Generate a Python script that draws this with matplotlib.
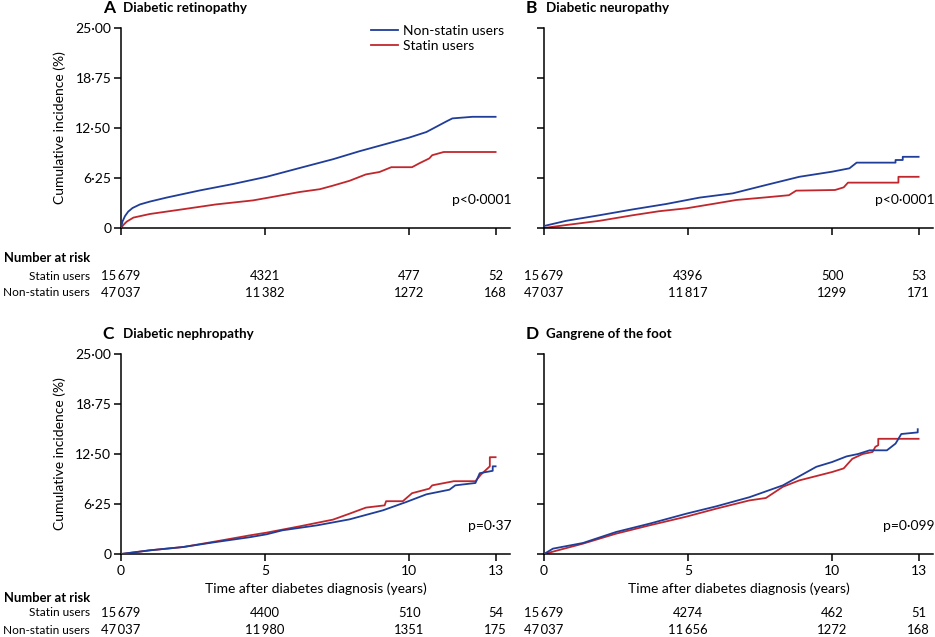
import matplotlib
matplotlib.use('Agg')
import matplotlib.pyplot as plt
import matplotlib.transforms as mtransforms

plt.rcParams['font.family'] = ['Lato', 'DejaVu Sans']

BLUE = '#1f3d99'
RED = '#c0272d'

# --- data (years, cumulative incidence %) ---
a_non_t = [0, 0.05, 0.14, 0.25, 0.4, 0.66, 1.0, 1.58, 2.74, 3.89, 5.05, 6.2, 7.36, 8.28, 9.09, 10.0, 10.6, 11.28, 11.5, 12.2, 13.0]
a_non_y = [0, 0.8, 1.5, 2.05, 2.5, 2.95, 3.3, 3.8, 4.7, 5.5, 6.4, 7.5, 8.6, 9.6, 10.4, 11.3, 12.0, 13.3, 13.7, 13.9, 13.9]
a_sta_t = [0, 0.1, 0.2, 0.43, 1.0, 2.16, 3.3, 4.58, 5.05, 6.2, 6.9, 7.36, 7.93, 8.5, 8.97, 9.38, 10.1, 10.36, 10.7, 10.8, 11.2, 13.0]
a_sta_y = [0, 0.45, 0.8, 1.3, 1.75, 2.35, 2.95, 3.45, 3.75, 4.5, 4.85, 5.3, 5.9, 6.7, 7.0, 7.6, 7.6, 8.1, 8.7, 9.1, 9.5, 9.5]

b_non_t = [0, 0.77, 1.93, 3.09, 4.24, 5.4, 6.55, 7.7, 8.86, 10.0, 10.6, 10.85, 12.2, 12.2, 12.45, 12.45, 13.0]
b_non_y = [0.25, 0.9, 1.6, 2.33, 3.0, 3.8, 4.33, 5.37, 6.4, 7.04, 7.46, 8.17, 8.17, 8.5, 8.5, 8.9, 8.9]
b_sta_t = [0, 0.77, 1.93, 3.09, 4.0, 4.94, 5.98, 6.67, 7.7, 8.5, 8.75, 10.1, 10.4, 10.55, 12.3, 12.3, 13.0]
b_sta_y = [0, 0.37, 0.9, 1.6, 2.1, 2.46, 3.08, 3.5, 3.83, 4.1, 4.67, 4.75, 5.08, 5.67, 5.67, 6.4, 6.4]

c_non_t = [0, 1.0, 2.16, 3.3, 4.47, 5.05, 5.6, 6.8, 7.93, 9.09, 9.9, 10.6, 11.4, 11.6, 12.3, 12.45, 12.9, 12.9, 13.0]
c_non_y = [0, 0.46, 0.875, 1.5, 2.1, 2.46, 2.96, 3.58, 4.33, 5.46, 6.5, 7.46, 8.04, 8.58, 8.875, 10.1, 10.4, 10.96, 10.96]
c_sta_t = [0, 1.0, 2.16, 3.3, 4.47, 5.05, 6.2, 7.36, 7.93, 8.5, 9.15, 9.2, 9.78, 10.1, 10.7, 10.8, 11.55, 12.3, 12.5, 12.8, 12.8, 13.0]
c_sta_y = [0, 0.46, 0.875, 1.58, 2.33, 2.67, 3.46, 4.3, 5.04, 5.8, 6.08, 6.6, 6.6, 7.6, 8.17, 8.58, 9.1, 9.1, 9.96, 10.96, 12.1, 12.1]

d_non_t = [0, 0.31, 1.35, 2.5, 3.66, 4.94, 5.98, 7.13, 8.29, 9.45, 10.0, 10.5, 10.9, 11.3, 11.9, 12.2, 12.4, 12.97, 12.97]
d_non_y = [0, 0.67, 1.375, 2.75, 3.79, 5.04, 5.96, 7.1, 8.58, 10.9, 11.5, 12.2, 12.5, 12.96, 12.96, 13.8, 15.0, 15.2, 15.6]
d_sta_t = [0, 1.35, 2.5, 3.66, 4.94, 5.98, 7.13, 7.7, 8.29, 8.86, 10.0, 10.4, 10.7, 11.06, 11.4, 11.5, 11.6, 11.6, 13.0]
d_sta_y = [0, 1.29, 2.54, 3.58, 4.67, 5.67, 6.7, 7.0, 8.4, 9.2, 10.25, 10.7, 11.9, 12.5, 12.75, 13.4, 13.6, 14.4, 14.4]

panels = [
    ('A', 'Diabetic retinopathy', 'p<0·0001', a_non_t, a_non_y, a_sta_t, a_sta_y),
    ('B', 'Diabetic neuropathy', 'p<0·0001', b_non_t, b_non_y, b_sta_t, b_sta_y),
    ('C', 'Diabetic nephropathy', 'p=0·37', c_non_t, c_non_y, c_sta_t, c_sta_y),
    ('D', 'Gangrene of the foot', 'p=0·099', d_non_t, d_non_y, d_sta_t, d_sta_y),
]

risk_times = [0, 5, 10, 13]
risk_statin = [
    ['15\u2009679', '4321', '477', '52'],
    ['15\u2009679', '4396', '500', '53'],
    ['15\u2009679', '4400', '510', '54'],
    ['15\u2009679', '4274', '462', '51'],
]
risk_non = [
    ['47\u2009037', '11\u2009382', '1272', '168'],
    ['47\u2009037', '11\u2009817', '1299', '171'],
    ['47\u2009037', '11\u2009980', '1351', '175'],
    ['47\u2009037', '11\u2009656', '1272', '168'],
]

yticks = [0, 6.25, 12.5, 18.75, 25]
ytick_labels = ['0', '6·25', '12·50', '18·75', '25·00']

W, H = 935, 637
fig = plt.figure(figsize=(W / 100, H / 100), dpi=100)

# axes rectangles in pixels: left, top(of y=25)
rects = [(121, 28), (544, 28), (121, 354), (544, 354)]
aw, ah = 389, 200
FS = 10
RS = 9.4   # risk table size

for i, (letter, title, ptxt, nt, ny, st, sy) in enumerate(panels):
    left, top = rects[i]
    ax = fig.add_axes([left / W, 1 - (top + ah) / H, aw / W, ah / H])
    ax.plot(nt, ny, color=BLUE, lw=1.3, label='Non-statin users', zorder=3)
    ax.plot(st, sy, color=RED, lw=1.3, label='Statin users', zorder=2)
    ax.set_xlim(0, 13.5)
    ax.set_ylim(0, 25)
    ax.spines['top'].set_visible(False)
    ax.spines['right'].set_visible(False)
    for s in ('left', 'bottom'):
        ax.spines[s].set_linewidth(1.1)
    ax.set_yticks(yticks)
    ax.set_xticks(risk_times)
    ax.tick_params(direction='out', length=5, width=1.1, labelsize=FS, pad=2)
    ax.tick_params(axis='x', pad=3)
    if i % 2 == 0:
        ax.set_yticklabels(ytick_labels)
        ax.set_ylabel('Cumulative incidence (%)', fontsize=FS, labelpad=7)
    else:
        ax.set_yticklabels([])
    if i >= 2:
        ax.set_xticklabels([str(t) for t in risk_times])
        ax.set_xlabel('Time after diabetes diagnosis (years)', fontsize=FS, labelpad=4)
    else:
        ax.set_xticklabels([])

    ax.text(-0.047, 1.1, letter, transform=ax.transAxes, fontsize=12.5,
            fontweight='bold', ha='left', va='center')
    ax.text(0.005, 1.1, title, transform=ax.transAxes, fontsize=9.6,
            fontweight='bold', ha='left', va='center')
    ax.text(1.005, 0.14, ptxt, transform=ax.transAxes, fontsize=FS,
            ha='right', va='center')

    if i == 0:
        h, l = ax.get_legend_handles_labels()
        ax.legend(h, l, loc='upper right', bbox_to_anchor=(1.0, 1.045), frameon=False,
                  fontsize=FS, handlelength=1.9, handletextpad=0.4, labelspacing=0.25,
                  borderaxespad=0.0)

    # number at risk rows
    xt = ax.get_xaxis_transform()
    if i >= 2:
        ys = (-0.22, -0.295, -0.38)
    else:
        ys = (-0.15, -0.24, -0.325)
    for t, s, n in zip(risk_times, risk_statin[i], risk_non[i]):
        ax.text(t, ys[1], s, transform=xt, ha='center', va='center', fontsize=RS, clip_on=False)
        ax.text(t, ys[2], n, transform=xt, ha='center', va='center', fontsize=RS, clip_on=False)
    if i % 2 == 0:
        bt = mtransforms.blended_transform_factory(fig.transFigure, ax.transAxes)
        ax.text(4 / W, ys[0], 'Number at risk', transform=bt,
                ha='left', va='center', fontsize=RS, fontweight='bold')
        ax.text(90 / W, ys[1], 'Statin users', transform=bt,
                ha='right', va='center', fontsize=8.6)
        ax.text(90 / W, ys[2], 'Non-statin users', transform=bt,
                ha='right', va='center', fontsize=8.6)

fig.savefig('out.png', dpi=100)
